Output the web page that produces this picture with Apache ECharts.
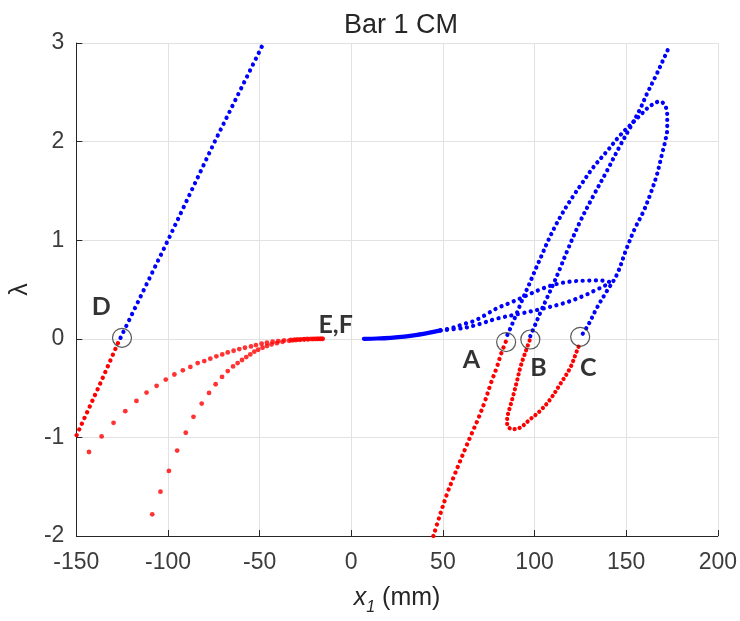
<!DOCTYPE html>
<html><head><meta charset="utf-8">
<script src="https://cdn.jsdelivr.net/npm/echarts@6/dist/echarts.min.js"></script>
<style>html,body{margin:0;padding:0;background:#fff}#c{width:740px;height:621px}</style>
</head><body><div id="c"></div>
<script>
// ---- text ----
const titleText = 'Bar 1 CM';
const xName = '{i|x}{s|1}{n| (mm)}';
const yName = 'λ';
// axis ranges [min, max, interval]
const xRange = [-150, 200, 50];
const yRange = [-2, 3, 1];

// ---- blue curves (dense) ----
const blueD = [[-125.9, 0.01], [-100, 1.0], [-74.5, 2.0], [-47.8, 3.0]];
const blueEFsolid = [[6.9, 0.0], [14, 0.003], [21.5, 0.01], [29, 0.022], [36, 0.04], [42, 0.06], [48.7, 0.085]];
const blueArcUpper = [[48.7, 0.085], [55, 0.11], [61.4, 0.15], [66.8, 0.18], [73, 0.24], [79.5, 0.31], [86, 0.36], [92.2, 0.41], [97.5, 0.455], [103.1, 0.50], [109, 0.54], [115.8, 0.57], [122, 0.585], [128.5, 0.59], [133, 0.592], [137.6, 0.59], [141.2, 0.575]];
const blueArcLower = [[48.7, 0.085], [61.4, 0.11], [70, 0.15], [79.5, 0.205], [92.2, 0.255], [103.1, 0.30], [115.8, 0.36], [122, 0.40], [128.5, 0.45], [134, 0.50], [137.6, 0.53], [141.2, 0.575]];
const blueLoopAC = [[85.2, 0.04], [87.6, 0.14], [90.0, 0.245], [92.3, 0.35], [94.6, 0.45], [97.0, 0.55], [99.3, 0.65], [101.6, 0.75], [104.0, 0.85], [106.3, 0.95], [108.8, 1.05], [111.5, 1.15], [114.5, 1.25], [117.7, 1.35], [121.2, 1.45], [124.9, 1.55], [132.1, 1.74], [139.4, 1.90], [146.7, 2.064], [152.1, 2.165], [157.6, 2.266], [163.0, 2.36], [168.4, 2.407], [171.2, 2.367], [172.4, 2.266], [172.4, 2.131], [171.2, 1.997], [169.4, 1.862], [166.7, 1.66], [163.0, 1.458], [159.4, 1.29], [154.8, 1.121], [150.3, 0.919], [144.9, 0.65], [139.4, 0.482], [134.0, 0.313], [129.4, 0.144], [125.8, 0.037]];
const blueB = [[97.7, 0.027], [100.4, 0.144], [103.1, 0.263], [106.8, 0.414], [110.4, 0.56], [114.0, 0.717], [117.7, 0.886], [124.9, 1.19], [132.1, 1.45], [139.4, 1.70], [146.7, 1.96], [152.1, 2.14], [157.6, 2.33], [161.2, 2.48], [166, 2.66], [170, 2.82], [173.9, 2.98]];

// ---- red curves (dense) ----
const redD = [[-127.3, -0.044], [-137, -0.455], [-150.9, -1.02]];
const redA = [[84.3, -0.03], [81.8, -0.15], [79.4, -0.29], [76.2, -0.45], [72.8, -0.64], [69.5, -0.8], [66, -0.95], [62.5, -1.1], [59.2, -1.25], [55.9, -1.40], [52.3, -1.57], [48.7, -1.77], [44.8, -2.0]];
const redBC = [[97.3, -0.017], [95.9, -0.09], [94.0, -0.19], [92.2, -0.293], [90.4, -0.43], [88.6, -0.56], [86.8, -0.68], [85.3, -0.78], [85.0, -0.85], [85.9, -0.9], [88.6, -0.916], [92.2, -0.9], [97.7, -0.815], [103.1, -0.73], [108.6, -0.613], [114.0, -0.46], [119.5, -0.293], [123.1, -0.124], [124.9, -0.04]];

// ---- red sparse branches from E,F ----
const redBranch1 = [[-150.2, -1.33], [-143.1, -1.148], [-136.2, -0.99], [-129.7, -0.852], [-123.3, -0.734], [-117.2, -0.63], [-111.7, -0.545], [-106.2, -0.477], [-101.2, -0.414], [-96.5, -0.362], [-91.9, -0.32], [-87.8, -0.285], [-83.8, -0.246], [-80.2, -0.226], [-76.9, -0.202], [-73.6, -0.178], [-70.4, -0.158], [-67.4, -0.138], [-64.2, -0.121], [-61.1, -0.104], [-58.0, -0.091], [-54.7, -0.077], [-52.0, -0.064], [-48.9, -0.05], [-46.0, -0.04], [-42.9, -0.03], [-39.9, -0.024], [-36.6, -0.017], [-33.0, -0.01], [-31, -0.008], [-29.3, -0.007], [-27.5, -0.005], [-25.7, -0.003], [-24, -0.002], [-22.1, -0.001], [-20.5, 0], [-18.5, 0], [-17, 0], [-15.7, 0]];
const redBranch2 = [[-108.6, -1.78], [-104.1, -1.55], [-99.5, -1.34], [-95.0, -1.134], [-90.3, -0.953], [-86.1, -0.791], [-81.6, -0.657], [-77.6, -0.549], [-74.0, -0.461], [-70.5, -0.387], [-67.4, -0.327], [-64.5, -0.28], [-62.0, -0.246], [-59.6, -0.215], [-57.3, -0.185], [-55.1, -0.158], [-52.9, -0.131], [-50.8, -0.111], [-48.4, -0.091], [-46.0, -0.074], [-43.5, -0.057], [-40.6, -0.044], [-37.5, -0.03], [-33.9, -0.02], [-32, -0.016], [-30.2, -0.013], [-28, -0.01], [-25.7, -0.007], [-23.5, -0.005], [-21.2, -0.003], [-19.5, -0.002], [-18, -0.001], [-16.8, 0], [-15.7, 0]];

// ---- markers and annotations ----
const circlePts = [[-125.1, 0.01], [84.5, -0.033], [97.7, -0.007], [124.9, 0.02]];
const annotNames = ['D', 'E,F', 'A', 'B', 'C'];
const annotX = [-136.4, -8.5, 65.5, 102.2, 129.3];
const annotY = [0.32, 0.144, -0.21, -0.30, -0.30];

const BLUE = '#0000ff', RED = '#ff0000';
const FONT = 'Liberation Sans';

function dotted(name, data, color, gap, smooth) {
  return {
    name, type: 'line', data, silent: true, symbol: 'none', showSymbol: false,
    smooth: smooth === undefined ? 0.35 : smooth,
    lineStyle: { color, width: 4.2, type: [0.1, gap], cap: 'round' },
    z: 3
  };
}
function solid(name, data, color) {
  return { name, type: 'line', data, silent: true, symbol: 'none', showSymbol: false, smooth: 0.3,
    lineStyle: { color, width: 4.2, cap: 'round' }, z: 3 };
}
function sparse(name, data, color) {
  return { name, type: 'scatter', data, silent: true, symbol: 'circle', symbolSize: 4.8,
    itemStyle: { color }, z: 3 };
}

const chart = echarts.init(document.getElementById('c'), null, { renderer: 'canvas' });
chart.setOption({
  animation: false,
  backgroundColor: '#fff',
  title: {
    text: titleText, left: 396, top: 7, textAlign: 'center',
    textStyle: { fontFamily: FONT, fontSize: 27, fontWeight: 'normal', color: '#262626' }
  },
  grid: { left: 75, right: 22, top: 43, bottom: 83, containLabel: false },
  xAxis: {
    type: 'value', min: xRange[0], max: xRange[1], interval: xRange[2],
    name: xName, nameLocation: 'middle', nameGap: 50,
    nameTextStyle: {
      fontFamily: FONT, color: '#262626',
      rich: {
        i: { fontFamily: FONT, fontStyle: 'italic', fontSize: 25, color: '#262626', lineHeight: 25, verticalAlign: 'top' },
        s: { fontFamily: FONT, fontStyle: 'italic', fontSize: 16, color: '#262626', lineHeight: 16, padding: [14, 0, 0, 0], verticalAlign: 'top' },
        n: { fontFamily: FONT, fontSize: 25, color: '#262626', lineHeight: 25, verticalAlign: 'top' }
      }
    },
    axisLine: { show: true, onZero: false, lineStyle: { color: '#262626', width: 1 } },
    axisTick: { show: true, inside: true, length: 6, lineStyle: { color: '#262626' } },
    axisLabel: { fontFamily: FONT, fontSize: 23, color: '#3c3c3c', margin: 15 },
    splitLine: { show: true, lineStyle: { color: '#e2e2e2', width: 1 } }
  },
  yAxis: {
    type: 'value', min: yRange[0], max: yRange[1], interval: yRange[2],
    name: yName, nameLocation: 'middle', nameGap: 42, nameRotate: 90,
    nameTextStyle: { fontFamily: FONT, fontSize: 25, color: '#262626' },
    axisLine: { show: true, onZero: false, lineStyle: { color: '#262626', width: 1 } },
    axisTick: { show: true, inside: true, length: 6, lineStyle: { color: '#262626' } },
    axisLabel: { fontFamily: FONT, fontSize: 23, color: '#3c3c3c', margin: 12 },
    splitLine: { show: true, lineStyle: { color: '#e2e2e2', width: 1 } }
  },
  series: [
    dotted('redD', redD, RED, 6.2, 0),
    dotted('redA', redA, RED, 6.0),
    dotted('redBC', redBC, RED, 5.0),
    sparse('redBranch1', redBranch1, RED),
    sparse('redBranch2', redBranch2, RED),
    dotted('blueD', blueD, BLUE, 6.5, 0),
    solid('blueEF', blueEFsolid, BLUE),
    dotted('blueArcUpper', blueArcUpper, BLUE, 6.5),
    dotted('blueArcLower', blueArcLower, BLUE, 6.5),
    dotted('blueLoopAC', blueLoopAC, BLUE, 6.0),
    dotted('blueB', blueB, BLUE, 6.0),
    {
      name: 'circles', type: 'scatter', data: circlePts, silent: true, symbol: 'circle', symbolSize: 19,
      itemStyle: { color: 'rgba(0,0,0,0)', borderColor: '#303030', borderWidth: 1.2 }, z: 5
    },
    {
      name: 'annotations', type: 'scatter', silent: true, symbolSize: 0, z: 6,
      data: annotNames.map((n, i) => ({ name: n, value: [annotX[i], annotY[i]] })),
      label: {
        show: true, position: 'inside', formatter: p => p.name,
        fontFamily: 'Lato', fontWeight: 'bold', fontSize: 25, color: '#000'
      }
    }
  ]
});
</script>
</body></html>
